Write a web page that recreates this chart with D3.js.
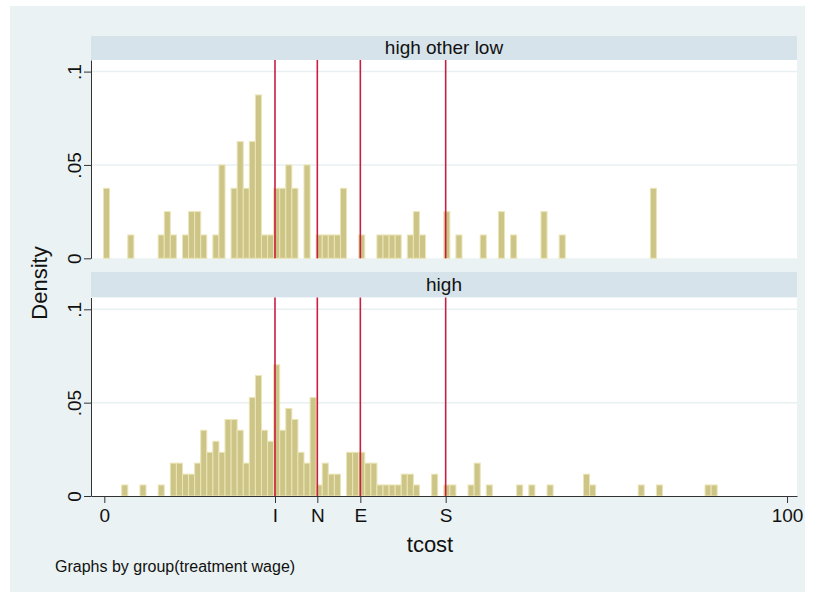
<!DOCTYPE html>
<html>
<head>
<meta charset="utf-8">
<script src="https://cdn.jsdelivr.net/npm/d3@7"></script>
<style>
  body { margin: 0; background: #fff; }
  text { font-family: "Liberation Sans Narrow", "Arial Narrow", "Liberation Sans", Arial, sans-serif; fill: #111; }
</style>
</head>
<body>
<div id="chart"></div>
<script>
// Histogram bin grid (shared by both groups), in tcost units
const binStart = -0.12;
const binWidth = 0.89;

// Group "high other low": bin index and density
const topBins = [0, 4, 9, 10, 11, 13, 14, 15, 16, 18, 19, 21, 22, 23, 24, 25, 26, 27, 28, 29, 30, 31, 33,
  35, 36, 37, 38, 39, 42, 45, 46, 47, 48, 50, 51, 52, 56, 58, 62, 65, 67, 72, 75, 90];
const topDensity = [.0375, .0125, .0125, .025, .0125, .0125, .025, .025, .0125, .0125, .05, .0375, .0625,
  .0375, .0625, .0875, .0125, .0125, .0375, .0375, .05, .0375, .05, .0125, .0125, .0125, .0125, .0375,
  .0125, .0125, .0125, .0125, .0125, .0125, .025, .0125, .025, .0125, .0125, .025, .0125, .025, .0125, .0375];

// Group "high": bin index and density
const bottomBins = [3, 6, 9, 11, 12, 13, 14, 15, 16, 17, 18, 19, 20, 21, 22, 23, 24, 25, 26, 27, 28, 29, 30,
  31, 32, 33, 34, 35, 36, 37, 38, 40, 41, 42, 43, 44, 45, 46, 47, 48, 49, 50, 51, 54, 56, 57, 60, 61, 63,
  68, 70, 73, 79, 80, 88, 91, 99, 100];
const bottomDensity = [.0059, .0059, .0059, .0176, .0176, .0117, .0117, .0176, .0352, .0234, .0293, .0234,
  .041, .041, .0352, .0176, .0527, .0645, .0352, .0293, .0703, .0352, .0469, .041, .0234, .0176, .0527,
  .0059, .0176, .0117, .0117, .0234, .0234, .0234, .0176, .0176, .0059, .0059, .0059, .0059, .0117, .0117,
  .0059, .0117, .0059, .0059, .0059, .0176, .0059, .0059, .0059, .0059, .0117, .0059, .0059, .0059, .0059, .0059];

const panelTitles = ["high other low", "high"];
const refLines = [25, 31.2, 37.5, 50];
const xTicks = [0, 25, 31.2, 37.5, 50, 100];
const xTickLabels = ["0", "I", "N", "E", "S", "100"];
const yTicks = [0, 0.05, 0.1];
const yTickLabels = ["0", ".05", ".1"];

const w = 814;
const h = 596;

const svg = d3.select("#chart")
  .append("svg")
  .attr("width", w)
  .attr("height", h)

// graph region
svg.append("rect")
  .attr("x", 10).attr("y", 6)
  .attr("width", 795).attr("height", 586)
  .attr("fill", "#eaf2f3")

const plotLeft = 91;
const plotRight = 797;

// x scale, 0 -> 104.3 and 100 -> 787
const xScale = d3.scaleLinear()
  .domain([-1.95, 101.46])
  .range([plotLeft, plotRight])

const panels = [
  { title: panelTitles[0], stripTop: 36, stripH: 24, base: 258.3, bins: topBins, dens: topDensity },
  { title: panelTitles[1], stripTop: 272, stripH: 25.5, base: 496, bins: bottomBins, dens: bottomDensity }
];

panels.forEach((p, i) => {
  const plotTop = p.stripTop + p.stripH;

  // 0.1 density = 186.7px
  const yScale = d3.scaleLinear()
    .domain([0, (p.base - plotTop) / 1867])
    .range([p.base, plotTop])

  const g = svg.append("g")

  // strip with group title
  g.append("rect")
    .attr("x", plotLeft).attr("y", p.stripTop)
    .attr("width", plotRight - plotLeft).attr("height", p.stripH)
    .attr("fill", "#d7e3ea")

  g.append("text")
    .attr("x", (plotLeft + plotRight) / 2)
    .attr("y", p.stripTop + p.stripH / 2 + 6)
    .attr("text-anchor", "middle")
    .style("font-size", "19px")
    .text(p.title)

  // plot region
  g.append("rect")
    .attr("x", plotLeft).attr("y", plotTop)
    .attr("width", plotRight - plotLeft).attr("height", p.base - plotTop)
    .attr("fill", "#fff")

  // grid lines
  g.selectAll(".grid")
    .data(yTicks.slice(1))
    .enter()
    .append("line")
    .attr("x1", plotLeft).attr("x2", plotRight)
    .attr("y1", d => yScale(d)).attr("y2", d => yScale(d))
    .attr("stroke", "#e8f0f2")
    .attr("stroke-width", 1.5)

  // bars
  g.selectAll(".bar")
    .data(p.bins.map((b, j) => ({ bin: b, density: p.dens[j] })))
    .enter()
    .append("rect")
    .attr("class", "bar")
    .attr("x", d => xScale(binStart + d.bin * binWidth))
    .attr("width", d => xScale(binStart + (d.bin + 1) * binWidth) - xScale(binStart + d.bin * binWidth))
    .attr("y", d => yScale(d.density))
    .attr("height", d => p.base - yScale(d.density))
    .attr("fill", "#cdc587")
    .attr("stroke", "#ebe5b6")
    .attr("stroke-width", 1)

  // reference lines
  g.selectAll(".ref")
    .data(refLines)
    .enter()
    .append("line")
    .attr("x1", d => xScale(d)).attr("x2", d => xScale(d))
    .attr("y1", plotTop).attr("y2", p.base)
    .attr("stroke", "#c81e40")
    .attr("stroke-width", 1.6)

  // y axis
  const yAxis = d3.axisLeft(yScale)
    .tickValues(yTicks)
    .tickSize(7)
    .tickSizeOuter(0)
    .tickFormat((d, k) => yTickLabels[k]);

  const ya = g.append("g")
    .attr("transform", "translate(" + plotLeft + ",0)")
    .call(yAxis)
  ya.select(".domain").attr("stroke", "#333")
  ya.selectAll(".tick line").attr("stroke", "#333")
  ya.selectAll(".tick text")
    .attr("x", null).attr("dy", null)
    .attr("text-anchor", "middle")
    .attr("transform", "translate(-10,0) rotate(-90)")
    .style("font-size", "19px")
    .attr("fill", "#111")

  // x axis only under the last panel
  if (i === panels.length - 1) {
    const xAxis = d3.axisBottom(xScale)
      .tickValues(xTicks)
      .tickSize(7)
      .tickSizeOuter(0)
      .tickFormat((d, k) => xTickLabels[k]);

    const xa = g.append("g")
      .attr("transform", "translate(0," + p.base + ")")
      .call(xAxis)
    xa.select(".domain").attr("stroke", "#333")
    xa.selectAll(".tick line").attr("stroke", "#333")
    xa.selectAll(".tick text")
      .attr("y", 13)
      .style("font-size", "19px")
      .attr("fill", "#111")
  }
})

// axis titles
svg.append("text")
  .attr("x", 430).attr("y", 552)
  .attr("text-anchor", "middle")
  .style("font-size", "22px")
  .text("tcost")

svg.append("text")
  .attr("transform", "translate(47,283) rotate(-90)")
  .attr("text-anchor", "middle")
  .style("font-size", "22px")
  .text("Density")

svg.append("text")
  .attr("x", 55).attr("y", 572)
  .style("font-size", "16px")
  .text("Graphs by group(treatment wage)")
</script>
</body>
</html>
